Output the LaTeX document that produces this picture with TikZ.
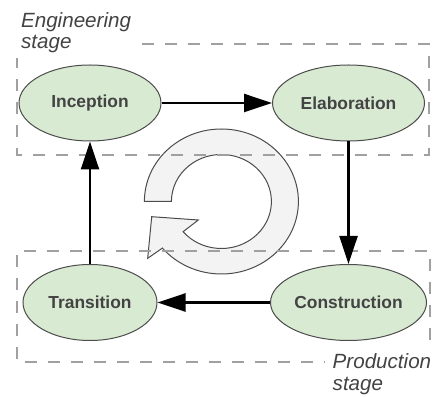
\documentclass[tikz,border=0pt]{standalone}
\usepackage{fontspec}
\setmainfont{Liberation Sans}
\usetikzlibrary{arrows.meta, shapes.geometric}
\definecolor{phasefill}{HTML}{D9EAD3}
\definecolor{phasetext}{HTML}{434343}
\definecolor{ringfill}{HTML}{F3F3F3}
\definecolor{stageline}{HTML}{A0A0A0}

\begin{document}
\begin{tikzpicture}[x=0.5pt, y=0.5pt, >={Triangle[length=14pt, width=9pt]},
        phase/.style={ellipse, draw=black!70, line width=0.5pt, fill=phasefill, inner sep=0pt,
            minimum height=38pt, text=phasetext, font=\fontsize{8.7}{10}\selectfont\bfseries},
        stagebox/.style={draw=stageline, line width=0.6pt, dash pattern=on 6pt off 5.5pt},
        stagelabel/.style={anchor=north west, inner sep=0pt, align=left, text=phasetext,
            font=\fontsize{10.3}{10.8}\selectfont\itshape},
        flow/.style={->, line width=1.2pt}]
            \useasboundingbox (0, 0) rectangle (433, 396);
            % the ring with its head
            \draw[black!70, line width=0.5pt, fill=ringfill] (144.4, 194.5)
                arc[start angle=180, end angle=-140, x radius=77, y radius=72.5]
                -- (147.7, 137.7) -- (151.7, 179.3) -- (198.3, 176) -- (183.1, 164.3)
                arc[start angle=-140, end angle=180, x radius=50, y radius=47] -- cycle;
            % stages, open where the labels stand
            \draw[stagebox] (142, 352) -- (429, 352) -- (429, 241) -- (17, 241) -- (17, 338);
            \draw[stagebox] (430, 56) -- (430, 145) -- (17, 145) -- (17, 34) -- (325, 34);
            \node[stagelabel] (eng) at (20.7, 384) {Engineering\\stage};
            \node[stagelabel] (prod) at (332.3, 42.4) {Production\\stage};
            % phases
            \node[phase, minimum width=71pt] (inc) at (90, 293) {Inception};
            \node[phase, minimum width=76pt] (ela) at (348.5, 293) {Elaboration};
            \node[phase, minimum width=78pt] (con) at (348.5, 93.5) {Construction};
            \node[phase, minimum width=67pt] (tra) at (90, 93.5) {Transition};
            \draw[flow] (inc) -- (ela);
            \draw[flow] (ela) -- (con);
            \draw[flow] (con) -- (tra);
            \draw[flow] (tra) -- (inc);

        \end{tikzpicture}
\end{document}
